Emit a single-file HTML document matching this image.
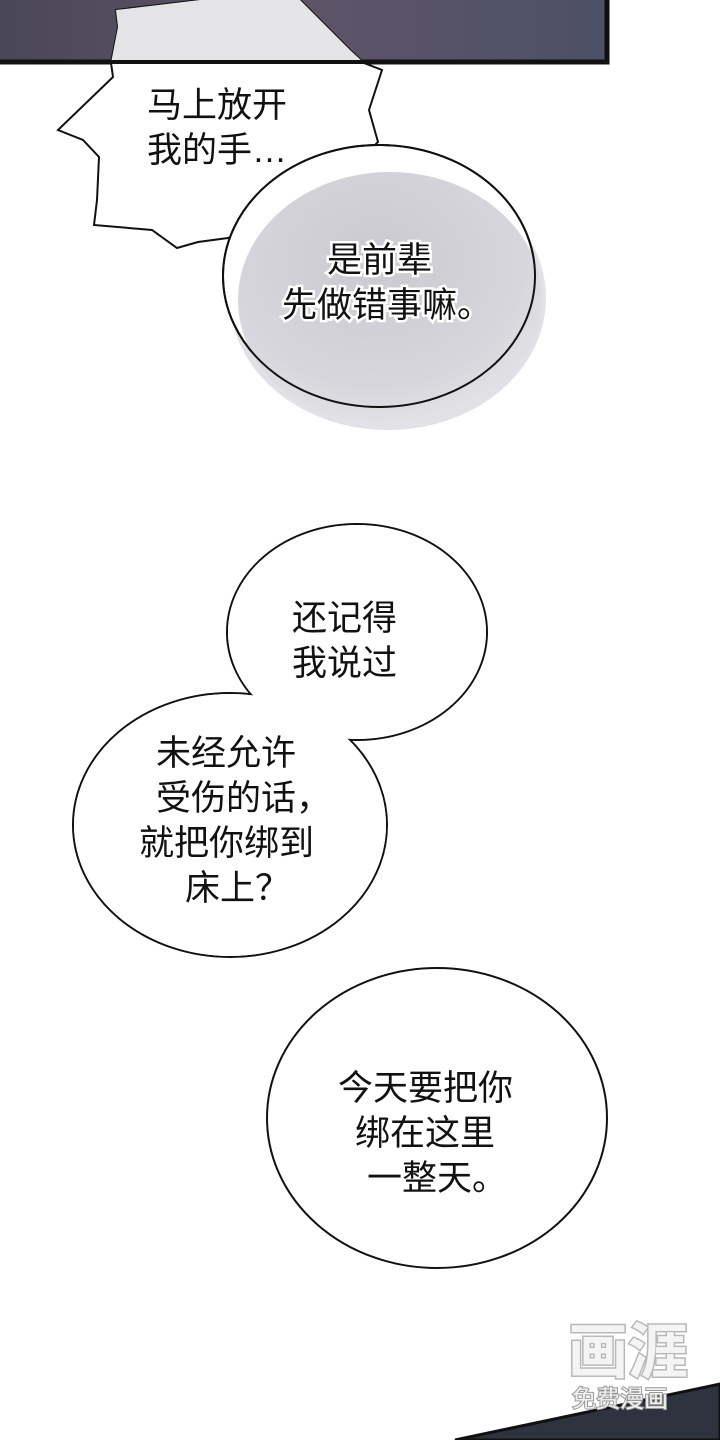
<!DOCTYPE html>
<html><head><meta charset="utf-8"><style>
html,body{margin:0;padding:0;background:#fff;}
svg{display:block;}
text{font-family:"Liberation Sans","Noto Sans CJK SC",sans-serif;font-size:35px;fill:#111;}
</style></head><body>
<svg width="720" height="1440" viewBox="0 0 720 1440" xmlns="http://www.w3.org/2000/svg">
<defs>
<linearGradient id="pg" x1="0" y1="0" x2="1" y2="0">
<stop offset="0" stop-color="#4a4758"/><stop offset="0.5" stop-color="#5e5468"/><stop offset="1" stop-color="#4d5068"/>
</linearGradient>
<radialGradient id="sg" cx="0.45" cy="0.35" r="0.7">
<stop offset="0" stop-color="#c9c9cf"/><stop offset="0.7" stop-color="#d6d6dc"/><stop offset="1" stop-color="#e6e6ea"/>
</radialGradient>
<clipPath id="pc"><rect x="0" y="0" width="607" height="62"/></clipPath>
</defs>
<!-- top panel -->
<rect x="0" y="0" width="607" height="62" fill="url(#pg)"/>
<rect x="-5" y="-5" width="612" height="67" fill="none" stroke="#111" stroke-width="5"/>
<!-- spiky bubble -->
<path d="M118,27 L116,10 L200,0 L300,0 L330,30 L350,50 L364,63 L382,70 L369,110 L378,142 L320,200 L228,238 L198,242 L177,248 L152,230 L94,225 L97,200 L99,157 L83,140 L58,130 L113,77 L111,63 Z" fill="#fff" stroke="#111" stroke-width="2"/>
<g clip-path="url(#pc)"><path d="M118,27 L116,10 L200,0 L300,0 L330,30 L350,50 L364,63 L111,63 Z" fill="#e4e4e6"/></g>
<line x1="0" y1="62" x2="607" y2="62" stroke="#111" stroke-width="4"/>
<text x="147" y="117">马上放开</text>
<text x="147" y="162">我的手…</text>
<!-- bubble 2 -->
<ellipse cx="388" cy="298" rx="158" ry="132" fill="#e2e2e6"/>
<ellipse cx="379" cy="276" rx="156" ry="131" fill="#fff" stroke="#111" stroke-width="2"/>
<ellipse cx="390" cy="300" rx="152" ry="128" fill="url(#sg)"/>
<ellipse cx="379" cy="276" rx="156" ry="131" fill="none" stroke="#111" stroke-width="2"/>
<g stroke="#fff" stroke-width="5" paint-order="stroke" style="paint-order:stroke">
<text x="327" y="272">是前辈</text>
<text x="282" y="317">先做错事嘛。</text>
</g>
<!-- bubble 3 -->
<ellipse cx="357" cy="632" rx="130" ry="108" fill="#fff" stroke="#111" stroke-width="2"/>
<ellipse cx="230" cy="825" rx="157" ry="132" fill="#fff" stroke="#111" stroke-width="2"/>
<ellipse cx="357" cy="632" rx="129" ry="107" fill="#fff"/>
<ellipse cx="230" cy="825" rx="156" ry="131" fill="#fff"/>
<text x="292" y="630">还记得</text>
<text x="292" y="675">我说过</text>
<text x="156" y="765">未经允许</text>
<text x="156" y="810">受伤的话，</text>
<text x="139" y="855">就把你绑到</text>
<text x="185" y="900">床上？</text>
<!-- bubble 4 -->
<ellipse cx="437" cy="1118" rx="170" ry="150" fill="#fff" stroke="#111" stroke-width="2"/>
<text x="338" y="1100">今天要把你</text>
<text x="355" y="1145">绑在这里</text>
<text x="367" y="1190">一整天。</text>
<!-- bottom panel -->
<polygon points="455,1440 720,1384 720,1440" fill="#2f3340" stroke="#111" stroke-width="3"/>
<!-- watermark -->
<text x="568" y="1373" style="font-size:60px;font-weight:bold;fill:#f4f4f4;stroke:#b8b8b8;stroke-width:3;paint-order:stroke">画涯</text>
<text x="572" y="1407" style="font-size:24px;fill:#f0f0f0;stroke:#999;stroke-width:2;paint-order:stroke">免费漫画</text>
</svg>
</body></html>
